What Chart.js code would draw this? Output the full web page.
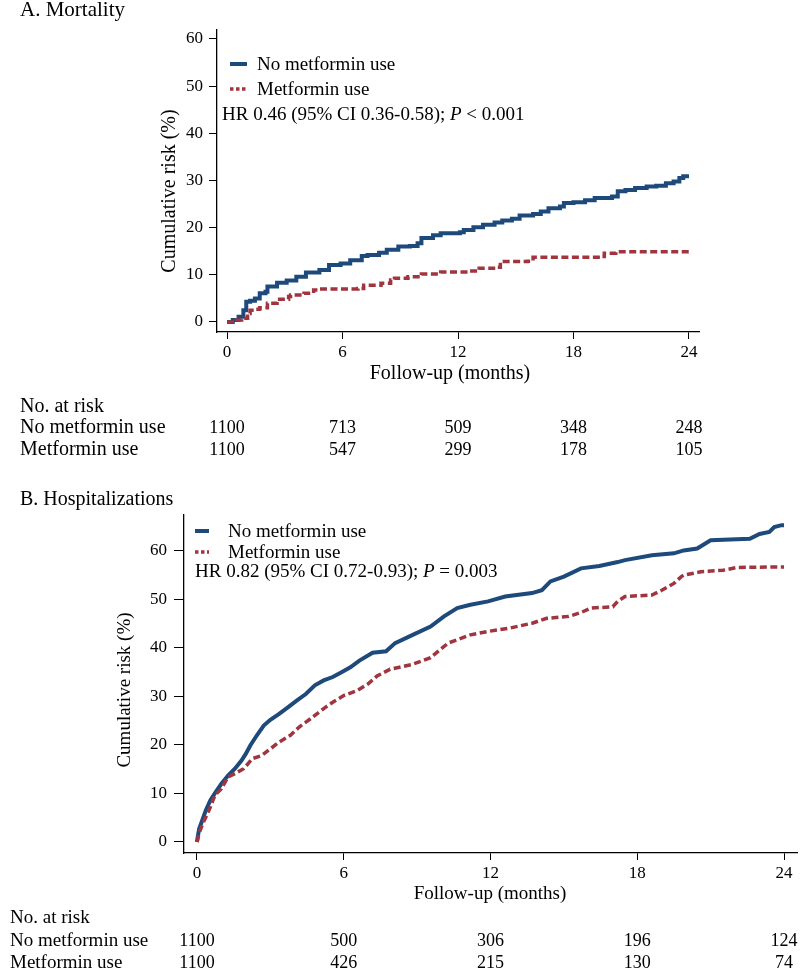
<!DOCTYPE html>
<html>
<head>
<meta charset="utf-8">
<script src="https://cdn.jsdelivr.net/npm/chart.js@4.4.1/dist/chart.umd.min.js"></script>
<style>
  html, body { margin: 0; padding: 0; background: #fff; }
  #wrap { position: relative; width: 800px; height: 976px; overflow: hidden; }
  .panel { position: absolute; left: 0; width: 800px; }
  #panelA { top: 0; height: 470px; }
  #panelB { top: 470px; height: 506px; }
</style>
</head>
<body>
<div id="wrap">
  <div class="panel" id="panelA"><canvas id="chartA" width="800" height="470"></canvas></div>
  <div class="panel" id="panelB"><canvas id="chartB" width="800" height="506"></canvas></div>
</div>
<script>
// Kaplan-Meier cumulative risk, two panels

const serif = "'Liberation Serif', 'Times New Roman', Times, serif";
const blue = '#1d4a7b';
const red = '#a0343f';

const tickMonths = [0, 6, 12, 18, 24];
const yTicks = [0, 10, 20, 30, 40, 50, 60];
const groupNames = ['No metformin use', 'Metformin use'];

// A. Mortality (months, %)
const mortNoMetT = [0, 0.3, 0.6, 0.85, 1.0, 1.2, 1.45, 1.7, 2.0, 2.1, 2.6, 3.1, 3.6, 4.1, 4.8, 5.3, 5.9, 6.4, 7.0, 7.3, 7.9, 8.3, 8.9, 9.5, 9.9, 10.1, 10.7, 11.1, 12.1, 12.3, 12.8, 13.3, 13.9, 14.3, 14.8, 15.2, 15.9, 16.3, 16.7, 17.3, 17.5, 18.0, 18.6, 19.1, 20.0, 20.3, 20.7, 21.2, 21.8, 22.3, 22.8, 23.2, 23.5, 23.7, 24.0];
const mortNoMetY = [0, 0.4, 1.1, 2.5, 4.3, 4.5, 5.0, 6.1, 6.4, 7.5, 8.3, 8.8, 9.6, 10.5, 11.0, 12.1, 12.4, 13.1, 14.0, 14.2, 14.7, 15.3, 16.0, 16.1, 16.7, 17.8, 18.4, 18.8, 19.0, 19.5, 20.1, 20.6, 21.1, 21.5, 21.9, 22.6, 22.9, 23.4, 24.1, 24.5, 25.2, 25.4, 25.8, 26.3, 26.6, 27.7, 28.0, 28.4, 28.7, 28.9, 29.4, 29.8, 30.5, 30.9, 30.9];
const mortMetT = [0, 0.5, 0.76, 1.07, 1.2, 1.4, 1.7, 2.1, 2.6, 3.2, 3.3, 4.0, 4.5, 4.7, 6.8, 7.1, 8.0, 8.5, 8.7, 9.4, 10.1, 11.1, 12.5, 13.1, 14.0, 14.2, 15.6, 15.9, 19.4, 19.6, 20.2, 24.0];
const mortMetY = [0, 0.4, 0.8, 1.8, 2.5, 2.7, 3.0, 4.0, 4.8, 5.4, 5.7, 6.1, 6.8, 7.0, 7.1, 7.8, 8.2, 8.9, 9.3, 9.6, 10.2, 10.6, 10.8, 11.4, 11.6, 12.8, 12.9, 13.7, 13.9, 14.6, 14.9, 14.9];
const mortAtRiskNoMet = [1100, 713, 509, 348, 248];
const mortAtRiskMet = [1100, 547, 299, 178, 105];

// B. Hospitalizations (months, %)
const hospNoMetT = [0, 0.03, 0.09, 0.24, 0.36, 0.55, 0.73, 1.0, 1.27, 1.55, 1.82, 2.0, 2.18, 2.45, 2.73, 3.0, 3.36, 3.73, 4.09, 4.45, 4.82, 5.18, 5.55, 5.91, 6.27, 6.64, 7.18, 7.73, 8.1, 8.82, 9.55, 10.1, 10.64, 11.18, 11.9, 12.6, 13.7, 14.1, 14.45, 15.0, 15.7, 16.45, 17.2, 17.5, 18.6, 19.5, 19.9, 20.45, 21.0, 22.6, 23.0, 23.4, 23.6, 23.9, 24.0];
const hospNoMetY = [0, 1.0, 2.7, 4.8, 6.5, 8.6, 10.0, 12.0, 13.7, 15.1, 16.8, 18.2, 19.9, 22.0, 24.0, 25.2, 26.4, 27.8, 29.2, 30.5, 32.3, 33.3, 34.0, 35.0, 36.0, 37.4, 39.0, 39.3, 41.0, 42.7, 44.4, 46.5, 48.2, 48.9, 49.6, 50.6, 51.3, 51.9, 53.7, 54.7, 56.4, 56.9, 57.7, 58.1, 59.1, 59.5, 60.1, 60.5, 62.2, 62.5, 63.5, 63.9, 64.9, 65.3, 65.3];
const hospMetT = [0, 0.05, 0.13, 0.24, 0.36, 0.55, 0.73, 1.0, 1.27, 1.55, 1.91, 2.27, 2.64, 3.0, 3.36, 3.82, 4.18, 4.64, 5.18, 5.55, 6.0, 6.55, 7.0, 7.36, 7.9, 8.8, 9.55, 10.27, 10.64, 11.18, 11.9, 12.8, 13.7, 14.3, 15.2, 15.7, 16.1, 17.0, 17.2, 17.5, 18.6, 19.0, 19.5, 19.8, 19.9, 20.6, 21.5, 22.1, 24.0];
const hospMetY = [0, 1.0, 2.4, 3.8, 5.1, 7.2, 9.6, 11.0, 13.4, 14.1, 15.1, 17.2, 17.8, 19.2, 20.6, 22.0, 23.7, 25.4, 27.5, 28.8, 30.2, 31.2, 32.6, 34.2, 35.6, 36.6, 38.0, 41.0, 41.7, 42.7, 43.4, 44.1, 45.1, 46.1, 46.5, 47.3, 48.2, 48.5, 49.6, 50.6, 50.9, 51.9, 53.3, 54.7, 55.0, 55.7, 56.0, 56.6, 56.7];
const hospAtRiskNoMet = [1100, 500, 306, 196, 124];
const hospAtRiskMet = [1100, 426, 215, 130, 74];

const toPoints = (t, y) => t.map((v, i) => ({ x: v, y: y[i] }));

// titles, legend, HR line and the risk table
function extras(p) {
  return {
    id: 'extras',
    afterDraw(chart) {
      const ctx = chart.ctx;
      const xs = chart.scales.x;
      ctx.save();
      ctx.fillStyle = '#000';
      ctx.textBaseline = 'middle';
      ctx.textAlign = 'left';

      ctx.font = `${p.titleSize}px ${serif}`;
      ctx.fillText(p.title, p.titleX, p.titleY);

      // legend
      ctx.font = `19px ${serif}`;
      const samples = [
        { color: blue, dash: [], width: 4 },
        { color: red, dash: [3.5, 2.5], width: 3.5 },
      ];
      samples.forEach((s, i) => {
        const y = p.legY[i];
        ctx.strokeStyle = s.color;
        ctx.lineWidth = s.width;
        ctx.setLineDash(s.dash);
        ctx.beginPath();
        ctx.moveTo(p.legX, y);
        ctx.lineTo(p.legX + p.legLen, y);
        ctx.stroke();
        ctx.setLineDash([]);
        ctx.fillText(groupNames[i], p.legTextX, y + 1);
      });

      // HR with italic P
      let cx = p.hrX;
      [[p.hr[0], false], ['P', true], [p.hr[1], false]].forEach(([s, it]) => {
        ctx.font = `${it ? 'italic ' : ''}19px ${serif}`;
        ctx.fillText(s, cx, p.hrY);
        cx += ctx.measureText(s).width;
      });

      // axis titles
      ctx.font = `${p.axisSize}px ${serif}`;
      ctx.save();
      ctx.translate(p.yTitleX, p.yTitleY);
      ctx.rotate(-Math.PI / 2);
      ctx.textAlign = 'center';
      ctx.fillText('Cumulative risk (%)', 0, 0);
      ctx.restore();
      ctx.textAlign = 'center';
      ctx.fillText('Follow-up (months)', p.xTitleX, p.xTitleY);

      // number at risk
      ctx.textAlign = 'left';
      ctx.fillText('No. at risk', p.tableX, p.tableY[0]);
      groupNames.forEach((n, i) => ctx.fillText(n, p.tableX, p.tableY[i + 1]));
      ctx.textAlign = 'center';
      ctx.font = `18px ${serif}`;
      p.atRisk.forEach((row, i) => {
        row.forEach((n, j) => {
          ctx.fillText(String(n), xs.getPixelForValue(tickMonths[j]), p.tableY[i + 1]);
        });
      });
      ctx.restore();
    },
  };
}

function makeChart(id, p) {
  const tickFont = { family: serif, size: 17 };
  return new Chart(document.getElementById(id), {
    type: 'line',
    data: {
      datasets: [
        {
          label: groupNames[0],
          data: toPoints(p.noMetT, p.noMetY),
          borderColor: blue,
          borderWidth: 4,
          stepped: p.stepped,
          order: 1,
        },
        {
          label: groupNames[1],
          data: toPoints(p.metT, p.metY),
          borderColor: red,
          borderWidth: 3.5,
          borderDash: [7, 3.5],
          stepped: p.stepped,
          order: 0,
        },
      ],
    },
    options: {
      responsive: false,
      animation: false,
      devicePixelRatio: 1,
      layout: { padding: p.padding },
      elements: { point: { radius: 0 }, line: { tension: 0, fill: false, borderCapStyle: 'butt' } },
      plugins: { legend: { display: false }, tooltip: { enabled: false } },
      scales: {
        x: {
          type: 'linear',
          min: p.xMin,
          max: p.xMax,
          afterBuildTicks: s => { s.ticks = tickMonths.map(v => ({ value: v })); },
          afterFit: s => { s.height = p.xHeight; },
          grid: { drawOnChartArea: false, tickLength: 7, color: '#000', lineWidth: 1 },
          border: { color: '#000', width: 1.3 },
          ticks: { color: '#000', font: tickFont, padding: 3, maxRotation: 0, autoSkip: false },
        },
        y: {
          type: 'linear',
          min: p.yMin,
          max: p.yMax,
          afterBuildTicks: s => { s.ticks = yTicks.map(v => ({ value: v })); },
          afterFit: s => { s.width = p.yWidth; },
          grid: { drawOnChartArea: false, tickLength: p.yTick, color: '#000', lineWidth: 1 },
          border: { color: '#000', width: 1.3 },
          ticks: { color: '#000', font: tickFont, padding: p.yPad, autoSkip: false },
        },
      },
    },
    plugins: [extras(p)],
  });
}

makeChart('chartA', {
  noMetT: mortNoMetT, noMetY: mortNoMetY, metT: mortMetT, metY: mortMetY,
  atRisk: [mortAtRiskNoMet, mortAtRiskMet],
  stepped: 'before',
  padding: { left: 0, right: 101, top: 30, bottom: 0 },
  yWidth: 217, xHeight: 138, yTick: 8, yPad: 6,
  xMin: -0.52, xMax: 24.52, yMin: -2.12, yMax: 61.9,
  title: 'A. Mortality', titleSize: 21, titleX: 20, titleY: 10,
  legX: 230, legLen: 17, legTextX: 257, legY: [64, 89],
  hr: ['HR 0.46 (95% CI 0.36-0.58); ', ' < 0.001'], hrX: 222, hrY: 115,
  axisSize: 20, yTitleX: 170, yTitleY: 191, xTitleX: 450, xTitleY: 374,
  tableX: 20, tableY: [407, 428, 450],
});

// hospitalization curves have many small events, drawn as a fine polyline
makeChart('chartB', {
  noMetT: hospNoMetT, noMetY: hospNoMetY, metT: hospMetT, metY: hospMetY,
  atRisk: [hospAtRiskNoMet, hospAtRiskMet],
  stepped: false,
  padding: { left: 0, right: 3, top: 45, bottom: 0 },
  yWidth: 184, xHeight: 123, yTick: 10, yPad: 7,
  xMin: -0.53, xMax: 24.53, yMin: -2.27, yMax: 67.4,
  title: 'B. Hospitalizations', titleSize: 20, titleX: 20, titleY: 30,
  legX: 195, legLen: 14, legTextX: 228, legY: [61, 82],
  hr: ['HR 0.82 (95% CI 0.72-0.93); ', ' = 0.003'], hrX: 195, hrY: 102,
  axisSize: 19, yTitleX: 125, yTitleY: 220, xTitleX: 490, xTitleY: 424,
  tableX: 10, tableY: [448, 471, 493],
});
</script>
</body>
</html>
